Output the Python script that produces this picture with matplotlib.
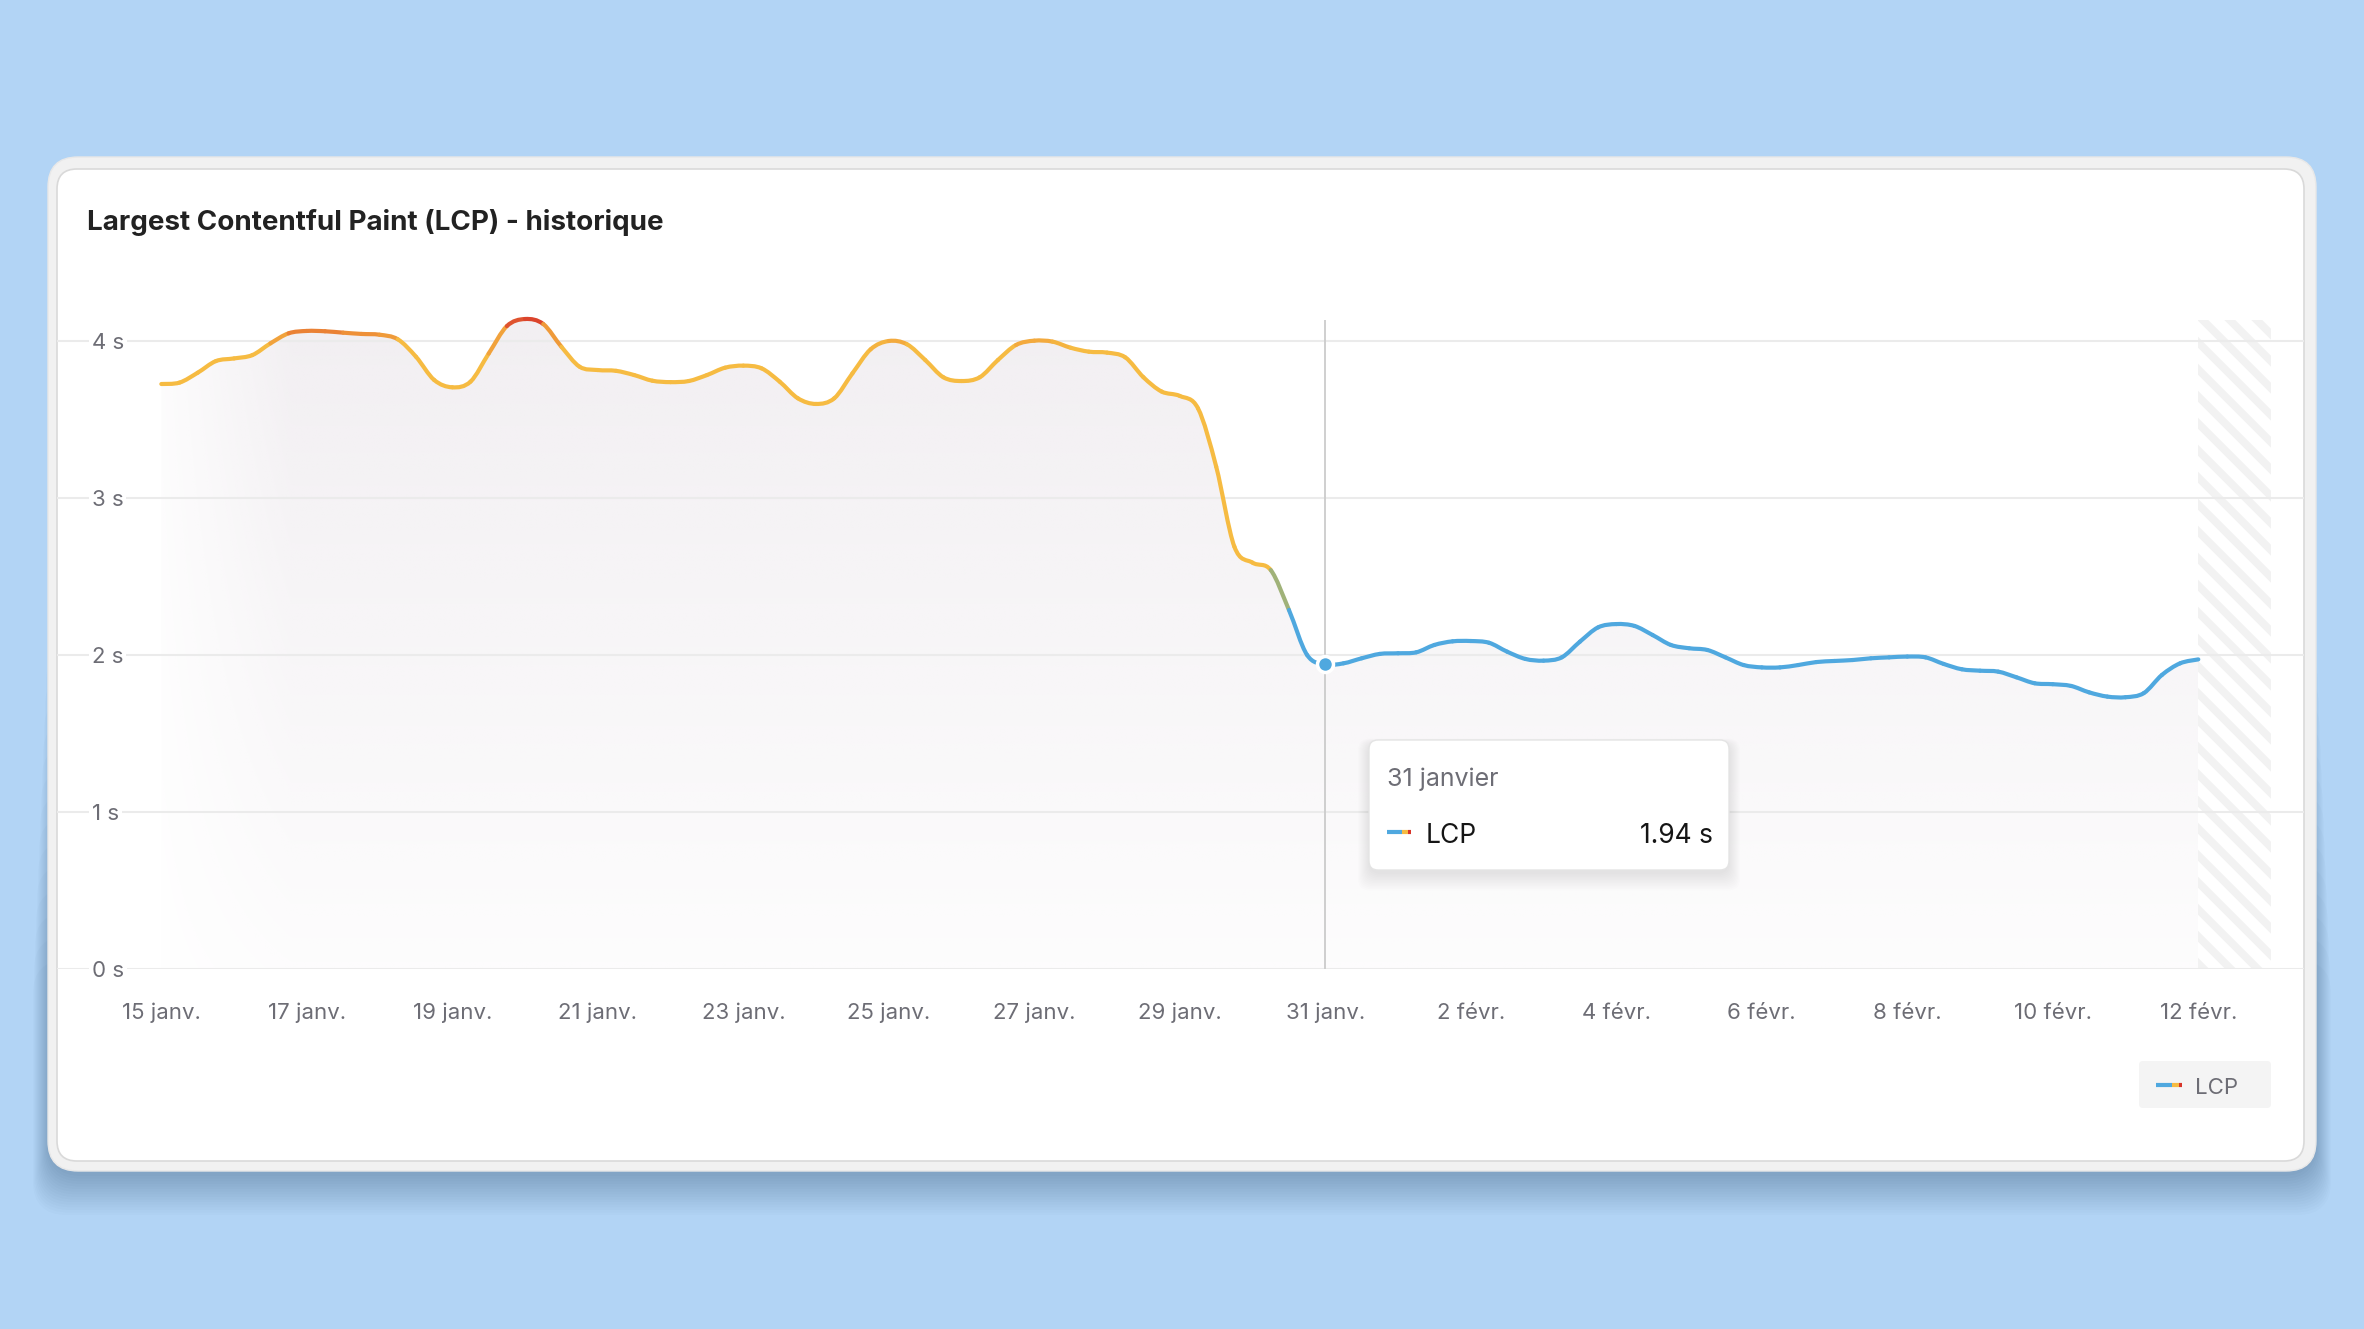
import numpy as np
import pandas as pd
import matplotlib
matplotlib.use('Agg')
import matplotlib.pyplot as plt
import matplotlib.dates as mdates
from matplotlib.collections import PathCollection
from matplotlib.patches import FancyBboxPatch, Polygon, Rectangle, PathPatch
from matplotlib.path import Path
from matplotlib.colors import LinearSegmentedColormap, Normalize, to_rgb
from matplotlib.transforms import blended_transform_factory

plt.rcParams['font.family'] = ['Inter', 'DejaVu Sans']

# LCP in seconds, one value every 6 hours from 15 Jan to 12 Feb
times = pd.date_range('2024-01-15', '2024-02-12', freq='6h')
lcp = [
    3.726, 3.735, 3.798, 3.872,
    3.889, 3.910, 3.985, 4.049,
    4.064, 4.062, 4.053, 4.045,
    4.040, 4.011, 3.900, 3.752,
    3.705, 3.741, 3.920, 4.095,
    4.140, 4.108, 3.963, 3.836,
    3.815, 3.810, 3.783, 3.747,
    3.738, 3.745, 3.783, 3.830,
    3.843, 3.826, 3.741, 3.635,
    3.599, 3.635, 3.794, 3.947,
    4.000, 3.979, 3.879, 3.769,
    3.745, 3.769, 3.879, 3.975,
    4.002, 3.996, 3.957, 3.932,
    3.926, 3.896, 3.769, 3.678,
    3.650, 3.571, 3.200, 2.690,
    2.588, 2.541, 2.287, 2.000,
    1.940, 1.947, 1.979, 2.007,
    2.011, 2.017, 2.064, 2.087,
    2.089, 2.078, 2.021, 1.975,
    1.964, 1.985, 2.085, 2.176,
    2.197, 2.185, 2.127, 2.064,
    2.043, 2.032, 1.985, 1.936,
    1.921, 1.921, 1.936, 1.955,
    1.962, 1.968, 1.979, 1.985,
    1.990, 1.985, 1.943, 1.909,
    1.900, 1.894, 1.858, 1.820,
    1.814, 1.803, 1.762, 1.735,
    1.731, 1.757, 1.873, 1.947,
    1.972,
]
tick_dates = pd.date_range('2024-01-15', '2024-02-12', freq='2D')
tick_labels = ['15 janv.', '17 janv.', '19 janv.', '21 janv.', '23 janv.',
               '25 janv.', '27 janv.', '29 janv.', '31 janv.', '2 févr.',
               '4 févr.', '6 févr.', '8 févr.', '10 févr.', '12 févr.']
y_ticks = [0, 1, 2, 3, 4]
y_labels = ['0 s', '1 s', '2 s', '3 s', '4 s']
focus_date = pd.Timestamp('2024-01-31')
focus_label = '31 janvier'
focus_value = 1.94

W, H = 2364, 1329
BLUE = '#4fa8df'
YELLOW = '#f6bb42'
RED = '#d8352a'
GREY_TXT = '#6d6d75'

fig = plt.figure(figsize=(W / 100, H / 100), dpi=100)
fig.patch.set_facecolor('#b2d4f5')

# background layer in pixel coords (top-left origin)
bg = fig.add_axes([0, 0, 1, 1], zorder=0)
bg.set_xlim(0, W)
bg.set_ylim(H, 0)
bg.axis('off')

# soft card shadow, mostly below the card
for i in range(16):
    e = 1.0 * i
    top = 600 + 24 * i
    bg.add_patch(FancyBboxPatch((48 - e, top), 2268 + 2 * e, 1176 + 2.6 * i - top,
                                boxstyle='round,pad=0,rounding_size=34',
                                fc='#1e3d60', ec='none', alpha=0.02))
bg.add_patch(FancyBboxPatch((48, 157), 2268, 1014, boxstyle='round,pad=0,rounding_size=30',
                            fc='#f1f1f1', ec='#e8e8e8', lw=1))
bg.add_patch(FancyBboxPatch((57, 169), 2247, 992, boxstyle='round,pad=0,rounding_size=20',
                            fc='white', ec='#d9d9d9', lw=1.2))
bg.text(87, 222, 'Largest Contentful Paint (LCP) - historique', fontsize=20,
        fontweight='bold', color='#222222', va='center', ha='left')

# main chart
start = times[0]
ax = fig.add_axes([57 / W, 1 - 969 / H, 2247 / W, (969 - 319.8) / H], zorder=1)
ax.set_facecolor('none')
for s in ax.spines.values():
    s.set_visible(False)
x = mdates.date2num(times)
x0 = mdates.date2num(start - pd.Timedelta(days=1.434))
x1 = mdates.date2num(start + pd.Timedelta(days=29.453))
ax.set_xlim(x0, x1)
ax.set_ylim(0, 4.135)
ax.set_xticks([])
ax.set_yticks([])

for v in y_ticks:
    ax.axhline(v, color='#ebebeb', lw=1.5, zorder=1)
ytr = blended_transform_factory(ax.transAxes, ax.transData)
for v, lab in zip(y_ticks, y_labels):
    ax.text(0.0156, v, lab, transform=ytr, fontsize=16, color=GREY_TXT,
            va='center_baseline', ha='left', zorder=3,
            bbox=dict(fc='white', ec='none', pad=2))
xtr = blended_transform_factory(ax.transData, ax.transAxes)
for d, lab in zip(tick_dates, tick_labels):
    ax.text(mdates.date2num(d), -0.077, lab, transform=xtr, fontsize=16,
            color=GREY_TXT, ha='center', va='baseline')

# smooth curve through the points (Catmull-Rom drawn as cubic Bezier pieces)
P = np.column_stack([x, lcp])
E = np.vstack([P[0], P, P[-1]])
pieces = []
for i in range(len(P) - 1):
    p0, p1, p2, p3 = E[i], E[i + 1], E[i + 2], E[i + 3]
    pieces.append((p1, p1 + (p2 - p0) / 6, p2 - (p3 - p1) / 6, p2))

# gradient fill under the curve
verts = [(x[0], 0), tuple(P[0])]
codes = [Path.MOVETO, Path.LINETO]
for p1, c1, c2, p2 in pieces:
    verts += [tuple(c1), tuple(c2), tuple(p2)]
    codes += [Path.CURVE4] * 3
verts += [(x[-1], 0), (x[0], 0)]
codes += [Path.LINETO, Path.CLOSEPOLY]
area = PathPatch(Path(verts, codes), fc='none', ec='none', transform=ax.transData)
ax.add_patch(area)
ny, nx = 200, 400
gy = np.linspace(0, 1, ny)[:, None]
gx = np.linspace(0, x[-1] - x[0], nx)[None, :]
base = np.array(to_rgb('#f2eff2'))
img = np.ones((ny, nx, 4))
img[..., :3] = base
img[..., 3] = (0.15 + 0.85 * gy) * np.clip(0.2 + gx / 2.2, 0, 1)
im = ax.imshow(img, extent=[x[0], x[-1], 0, 4.2], aspect='auto', origin='lower',
               zorder=0.5, interpolation='bilinear')
im.set_clip_path(area)
ax.set_ylim(0, 4.135)

# line coloured by value
VMAX = 4.2
cmap = LinearSegmentedColormap.from_list('lcp', [
    (0.0, BLUE), (2.28 / VMAX, BLUE), (2.42 / VMAX, '#9fb27a'),
    (2.55 / VMAX, YELLOW), (3.97 / VMAX, YELLOW), (4.05 / VMAX, '#ee9238'),
    (4.15 / VMAX, RED), (1.0, RED)])
mids = (np.array(lcp[:-1]) + np.array(lcp[1:])) / 2
seg_paths = [Path(np.array(pc), [Path.MOVETO, Path.CURVE4, Path.CURVE4, Path.CURVE4])
             for pc in pieces]
line = PathCollection(seg_paths, facecolors='none',
                      edgecolors=cmap(Normalize(0, VMAX)(mids)), linewidths=3.0,
                      capstyle='round', joinstyle='round', zorder=4,
                      transform=ax.transData)
line.set_clip_on(False)
ax.add_collection(line, autolim=False)

# crosshair + focus point
fx = mdates.date2num(focus_date)
ax.axvline(fx, color='#cbcbcb', lw=1.3, zorder=2)
ax.plot([fx], [focus_value], 'o', ms=11.5, mfc=BLUE, mec='white', mew=2.5, zorder=5)

# hatched "incomplete" zone after the last point
hx0, hy0 = ax.transData.transform((x[-1], 0))
hx1, hy1 = ax.transData.transform((x[-1] + 1, 4.135))
top, bot = H - hy1, H - hy0
clip = Rectangle((hx0, top), hx1 - hx0, bot - top, transform=bg.transData, fc='none', ec='none')
bg.add_patch(clip)
L = bot - top
period, sw = 27, 11
c = hx0 - L
while c < hx1:
    st = Polygon([(c, top), (c + sw, top), (c + sw + L, bot), (c + L, bot)],
                 closed=True, fc='#f2f2f2', ec='none')
    bg.add_patch(st)
    st.set_clip_path(clip)
    c += period

# overlay: tooltip + legend
ov = fig.add_axes([0, 0, 1, 1], zorder=2)
ov.set_xlim(0, W)
ov.set_ylim(H, 0)
ov.axis('off')
ov.patch.set_alpha(0)

for i in range(12):
    ov.add_patch(FancyBboxPatch((1369 - i, 744 - i * 0.5), 360 + 2 * i, 130 + 2 * i,
                                boxstyle='round,pad=0,rounding_size=12',
                                fc='black', ec='none', alpha=0.006))
ov.add_patch(FancyBboxPatch((1369, 740), 360, 130, boxstyle='round,pad=0,rounding_size=9',
                            fc='white', ec='#e4e4e4', lw=1))
ov.text(1387, 777, focus_label, fontsize=18, color=GREY_TXT,
        va='center_baseline', ha='left')


def icon(axx, xa, xb, y):
    w = xb - xa
    axx.plot([xa, xa + 0.62 * w], [y, y], color=BLUE, lw=3, solid_capstyle='butt')
    axx.plot([xa + 0.62 * w, xa + 0.88 * w], [y, y], color=YELLOW, lw=3, solid_capstyle='butt')
    axx.plot([xa + 0.88 * w, xb], [y, y], color=RED, lw=3, solid_capstyle='butt')


icon(ov, 1387, 1411, 832)
ov.text(1426, 833, 'LCP', fontsize=19, color='#151515', va='center_baseline', ha='left')
ov.text(1713, 833, f'{focus_value:.2f} s', fontsize=19, color='#151515',
        va='center_baseline', ha='right')

ov.add_patch(FancyBboxPatch((2139, 1061), 132, 47, boxstyle='round,pad=0,rounding_size=4',
                            fc='#f4f4f4', ec='none'))
icon(ov, 2156, 2182, 1085)
ov.text(2195, 1086, 'LCP', fontsize=16, color=GREY_TXT, va='center_baseline', ha='left')

fig.savefig('out.png', dpi=100, facecolor=fig.get_facecolor())
